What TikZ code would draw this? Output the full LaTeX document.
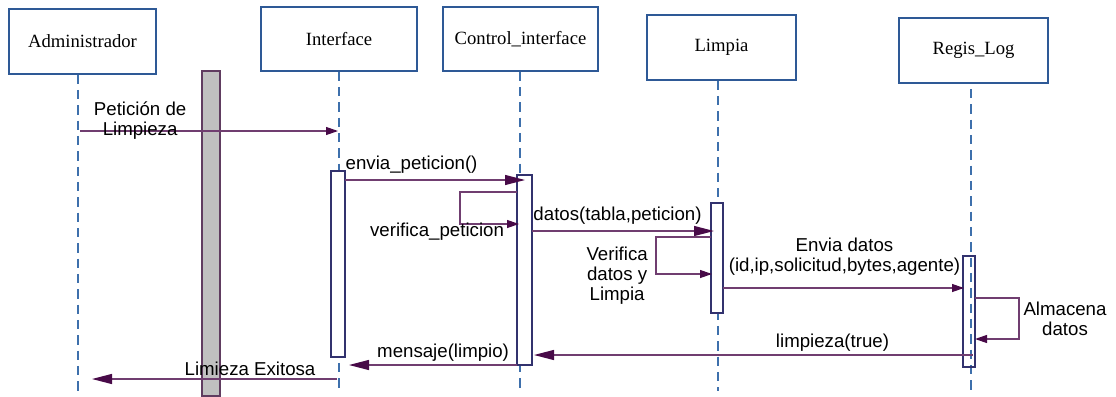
\documentclass[tikz,border=0pt]{standalone}
\usepackage{fontspec}
\setmainfont{Liberation Serif}
\setsansfont{Liberation Sans}
\usetikzlibrary{arrows.meta, positioning}

\definecolor{boxblue}{RGB}{46,89,150}
\definecolor{lifeblue}{RGB}{62,112,172}
\definecolor{actnavy}{RGB}{50,50,110}
\definecolor{msgline}{RGB}{112,62,112}
\definecolor{headcol}{RGB}{72,10,72}
\definecolor{barfill}{RGB}{192,192,192}
\definecolor{barline}{RGB}{96,60,96}

\begin{document}
\begin{tikzpicture}[
            x = 0.75pt, y = -0.75pt, % one unit is one pixel, y downwards
            > = {Triangle[length=9pt, width=6pt, color=headcol]}, % arrow head style
            shorten > = 0pt, % tip touches the bar
            every text node part/.style={align=center} % line style
        ]

        \tikzstyle{object}=[draw=boxblue, line width=0.9pt, fill=white, inner sep=0pt,
            font=\rmfamily\fontsize{14}{16}\selectfont]
        \tikzstyle{lifeline}=[draw=lifeblue, line width=0.9pt, dash pattern=on 7pt off 4.5pt]
        \tikzstyle{activation}=[draw=actnavy, line width=0.8pt, fill=white, inner sep=0pt]
        \tikzstyle{message}=[->, draw=msgline, line width=0.9pt]
        \tikzstyle{bighead}=[-{Triangle[length=15pt, width=7.5pt, color=headcol]}]
        \tikzstyle{msgtext}=[font=\sffamily\fontsize{14}{15}\selectfont, inner sep=0pt]

        \useasboundingbox (0,0) rectangle (1116,396);

        % objects
        \node[object, minimum width=110.25pt, minimum height=48.75pt] (adm) at (82.5,41.5) {Administrador};
        \node[object, minimum width=117pt, minimum height=48pt] (int) at (339,39) {Interface};
        \node[object, minimum width=116.25pt, minimum height=48pt] (ctl) at (520.5,39) {Control\_interface};
        \node[object, minimum width=111.75pt, minimum height=48.75pt] (lim) at (721.5,47.5) {Limpia};
        \node[object, minimum width=111.75pt, minimum height=48.75pt] (reg) at (973.5,50.5) {Regis\_Log};

        % lifelines
        \coordinate (admend) at (78,391);
        \coordinate (intend) at (339,391);
        \coordinate (ctlend) at (520,391);
        \coordinate (limend) at (718,391);
        \coordinate (regend) at (971,391);
        \draw[lifeline] (admend |- adm.south) -- (admend);
        \draw[lifeline] (intend |- int.south) -- (intend);
        \draw[lifeline] (ctlend |- ctl.south) -- (ctlend);
        \draw[lifeline] (limend |- lim.south) -- (limend);
        \draw[lifeline] ([yshift=-4pt]regend |- reg.south) -- (regend);

        \node[draw=barline, fill=barfill, line width=0.8pt, inner sep=0pt,
            minimum width=13.5pt, minimum height=243.75pt] (bar) at (211,233.5) {};

        % activations
        \node[activation, minimum width=10.5pt, minimum height=139.5pt] (actint) at (338,264) {};
        \node[activation, minimum width=11.25pt, minimum height=142.5pt] (actctl) at (524.5,270) {};
        \node[activation, minimum width=9pt, minimum height=82.5pt] (actlim) at (717,258) {};
        \node[activation, fill=none, minimum width=9pt, minimum height=83.25pt] (actreg) at (969,311.5) {};

        % message ends
        \coordinate (pet1) at (80,131);   \coordinate (pet2) at (338,131);
        \coordinate (env1) at (345,180);  \coordinate (env2) at (525,180);
        \coordinate (ver1) at (517,192);  \coordinate (ver2) at (460,224);  \coordinate (ver3) at (519,224);
        \coordinate (dat1) at (532,231);  \coordinate (dat2) at (714,231);
        \coordinate (vdl1) at (711,237);  \coordinate (vdl2) at (656,274);  \coordinate (vdl3) at (712,274);
        \coordinate (evd1) at (723,288);  \coordinate (evd2) at (964,288);
        \coordinate (alm1) at (975,298);  \coordinate (alm2) at (1019,339); \coordinate (alm3) at (975,339);
        \coordinate (lpz1) at (973,355);  \coordinate (lpz2) at (534,355);
        \coordinate (msj1) at (517,365);  \coordinate (msj2) at (349,365);
        \coordinate (exi1) at (337,379);  \coordinate (exi2) at (92,379);

        \draw[message] (pet1) -- node[msgtext, pos=0.233, yshift=7.5pt] {Petición de\\Limpieza} (pet2);
        \draw[message, bighead] (env1) -- node[msgtext, pos=0.37, yshift=11.5pt] {envia\_peticion()} (env2);
        \draw[message] (ver1) -| (ver2) -- (ver3);
        \node[msgtext] (verlbl) at (437,232) {verifica\_peticion};
        \draw[message, bighead] (dat1) -- node[msgtext, pos=0.47, yshift=11.25pt] {datos(tabla,peticion)} (dat2);
        \draw[message] (vdl1) -| (vdl2) -- (vdl3);
        \node[msgtext, anchor=east, align=right] (vdllbl) at (648,275.5) {Verifica\\datos y\\Limpia};
        \draw[message] (evd1) -- node[msgtext, pos=0.504, yshift=23.6pt] {Envia datos\\(id,ip,solicitud,bytes,agente)} (evd2);
        \draw[message] (alm1) -| (alm2) -- (alm3);
        \node[msgtext] (almlbl) at (1065,319) {Almacena\\datos};
        \draw[message, bighead] (lpz1) -- node[msgtext, pos=0.32, yshift=9pt] {limpieza(true)} (lpz2);
        \draw[message, bighead] (msj1) -- node[msgtext, pos=0.44, yshift=9pt] {mensaje(limpio)} (msj2);
        \draw[message, bighead] (exi1) -- node[msgtext, pos=0.355, yshift=7.5pt] {Limieza Exitosa} (exi2);

    \end{tikzpicture}
\end{document}
